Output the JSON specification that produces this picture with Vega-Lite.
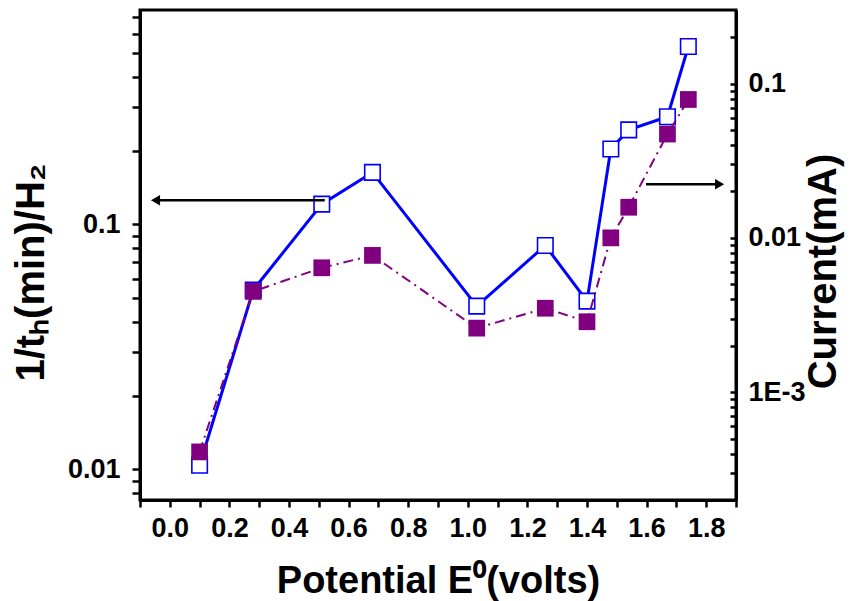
{
  "$schema": "https://vega.github.io/schema/vega-lite/v6.json",
  "autosize": {"type": "none"},
  "width": 596,
  "height": 490,
  "padding": {"left": 140, "top": 10, "right": 115, "bottom": 101},
  "background": "white",
  "config": {
    "font": "Liberation Sans",
    "view": {"stroke": "black", "strokeWidth": 3},
    "axis": {
      "grid": false,
      "ticks": true,
      "domainColor": "black",
      "domainWidth": 3,
      "tickColor": "black",
      "tickWidth": 2.5,
      "labelColor": "black",
      "labelFont": "Liberation Sans",
      "labelFontWeight": "bold",
      "labelFontSize": 27,
      "titleColor": "black",
      "titleFont": "Liberation Sans",
      "titleFontWeight": "bold",
      "titleFontSize": 38
    }
  },
  "datasets": {
    "pts": [
      {"E": 0.10, "rate": 0.0104, "current": 0.00041},
      {"E": 0.28, "rate": 0.054, "current": 0.0045},
      {"E": 0.51, "rate": 0.121, "current": 0.0064},
      {"E": 0.68, "rate": 0.163, "current": 0.0077},
      {"E": 1.03, "rate": 0.0464, "current": 0.0026},
      {"E": 1.26, "rate": 0.082, "current": 0.0035},
      {"E": 1.40, "rate": 0.0486, "current": 0.00286},
      {"E": 1.48, "rate": 0.203, "current": 0.0100},
      {"E": 1.54, "rate": 0.243, "current": 0.0158},
      {"E": 1.67, "rate": 0.275, "current": 0.0471},
      {"E": 1.74, "rate": 0.532, "current": 0.0789}
    ],
    "arrows": [
      {"E": 0.52, "to": -0.045, "rate": 0.1254},
      {"E": 1.598, "to": 1.845, "rate": 0.1458}
    ],
    "heads": [
      {"E": -0.048, "rate": 0.1254, "dir": "left"},
      {"E": 1.845, "rate": 0.1458, "dir": "right"}
    ]
  },
  "encoding": {
    "x": {
      "field": "E", "type": "quantitative",
      "title": "Potential E⁰(volts)",
      "scale": {"domain": [-0.1, 1.9], "nice": false, "zero": false},
      "axis": {
        "orient": "bottom",
        "ticks": true,
        "values": [-0.1, 0, 0.1, 0.2, 0.3, 0.4, 0.5, 0.6, 0.7, 0.8, 0.9, 1.0, 1.1, 1.2, 1.3, 1.4, 1.5, 1.6, 1.7, 1.8, 1.9],
        "labelExpr": "(datum.value > -0.01 && datum.value < 1.81 && round(datum.value*10) % 2 == 0) ? format(datum.value, '.1f') : ''",
        "labelOverlap": false,
        "tickColor": "black",
        "tickWidth": 2.5,
        "tickSize": 7,
        "domainColor": "black",
        "domainWidth": 3,
        "labelPadding": 8,
        "titleX": 298,
        "titleY": 92,
        "titleBaseline": "alphabetic"
      }
    }
  },
  "layer": [
    {
      "encoding": {
        "y": {
          "field": "rate", "type": "quantitative",
          "title": "1/tₕ(min)/H₂",
          "scale": {"type": "log", "domain": [0.0075, 0.75], "nice": false},
          "axis": {
            "orient": "left",
            "ticks": true,
            "tickOpacity": 1,
            "values": [0.008, 0.009, 0.01, 0.02, 0.03, 0.04, 0.05, 0.06, 0.07, 0.08, 0.09, 0.1, 0.2, 0.3, 0.4, 0.5, 0.6, 0.7],
            "labelExpr": "(abs(log(datum.value)/LN10 - round(log(datum.value)/LN10)) < 0.000001) ? toString(datum.value) : ''",
            "labelOverlap": false,
            "tickColor": "black",
            "tickWidth": 2.5,
            "tickSize": 8,
            "domainColor": "black",
            "domainWidth": 3,
            "labelPadding": 12,
            "titleFontSize": 40,
            "titleAngle": 270,
            "titleX": -97,
            "titleY": 262,
            "titleBaseline": "alphabetic"
          }
        }
      },
      "layer": [
        {
          "data": {"name": "pts"},
          "mark": {"type": "line", "color": "#0000FF", "strokeWidth": 3}
        },
        {
          "data": {"name": "pts"},
          "mark": {"type": "point", "shape": "square", "size": 240, "filled": true, "fill": "white", "stroke": "#0000FF", "strokeWidth": 1.6, "opacity": 1}
        },
        {
          "data": {"name": "arrows"},
          "mark": {"type": "rule", "color": "black", "strokeWidth": 2.6},
          "encoding": {"x2": {"field": "to"}}
        },
        {
          "data": {"name": "heads"},
          "mark": {"type": "point", "filled": true, "color": "black", "size": 110, "opacity": 1},
          "encoding": {
            "shape": {
              "field": "dir", "type": "nominal",
              "scale": {"domain": ["left", "right"], "range": ["triangle-left", "triangle-right"]},
              "legend": null
            }
          }
        }
      ]
    },
    {
      "encoding": {
        "y": {
          "field": "current", "type": "quantitative",
          "title": "Current(mA)",
          "scale": {"type": "log", "domain": [0.0002, 0.3], "nice": false},
          "axis": {
            "orient": "right",
            "ticks": true,
            "tickOpacity": 1,
            "values": [0.0002, 0.0003, 0.0004, 0.0005, 0.0006, 0.0007, 0.0008, 0.0009, 0.001, 0.002, 0.003, 0.004, 0.005, 0.006, 0.007, 0.008, 0.009, 0.01, 0.02, 0.03, 0.04, 0.05, 0.06, 0.07, 0.08, 0.09, 0.1, 0.2],
            "labelExpr": "(abs(log(datum.value)/LN10 - round(log(datum.value)/LN10)) < 0.000001) ? (datum.value < 0.002 ? '1E-3' : toString(datum.value)) : ''",
            "labelOverlap": false,
            "tickColor": "black",
            "tickWidth": 2.5,
            "tickSize": -6,
            "domainColor": "black",
            "domainWidth": 3,
            "labelPadding": 18,
            "titleFontSize": 40,
            "titleAngle": 270,
            "titleX": 99,
            "titleY": 261,
            "titleBaseline": "alphabetic"
          }
        }
      },
      "layer": [
        {
          "data": {"name": "pts"},
          "mark": {"type": "line", "color": "#800080", "strokeWidth": 2, "strokeDash": [10, 5, 2, 5]}
        },
        {
          "data": {"name": "pts"},
          "mark": {"type": "point", "shape": "square", "size": 280, "filled": true, "color": "#800080", "opacity": 1}
        }
      ]
    }
  ],
  "resolve": {"scale": {"y": "independent"}}
}
